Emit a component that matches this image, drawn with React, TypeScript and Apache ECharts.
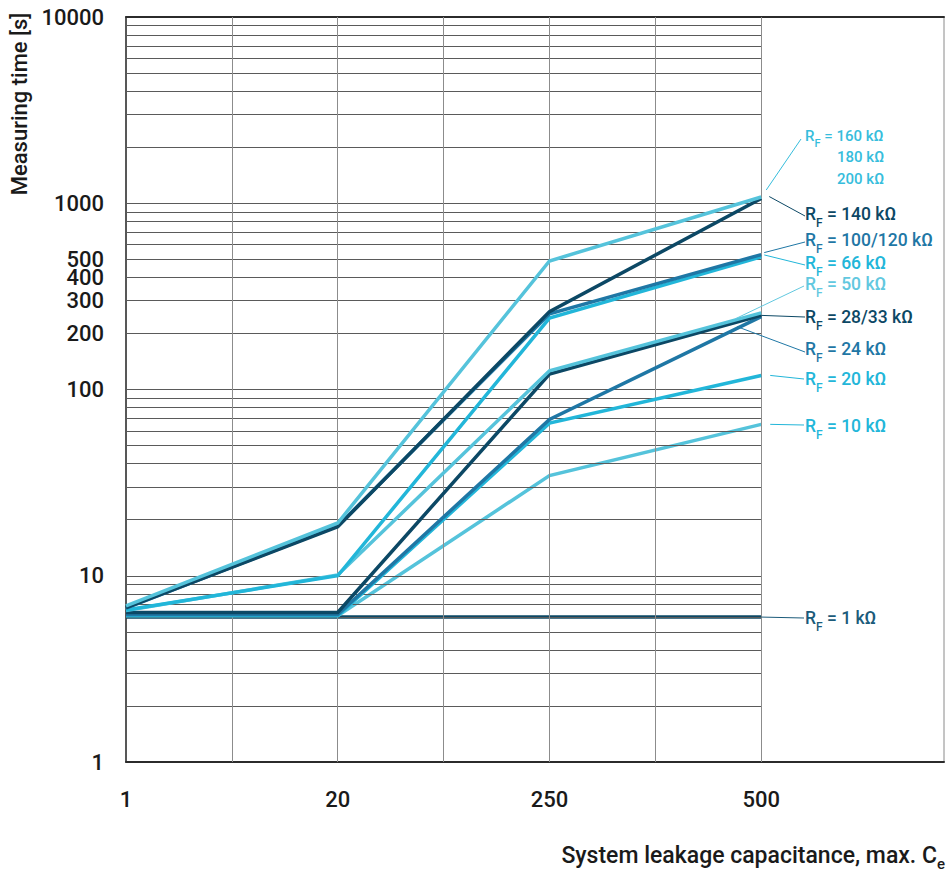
import React, { useEffect, useRef } from "react";
import * as echarts from "echarts";

// ---------- data ----------
const xLabels = ["1", "20", "250", "500"];
const xPos = [0, 2, 4, 6];

const rf160 = [6.9, 19.2, 490, 1080];
const rf140 = [6.75, 18.3, 262, 1060];
const rf100 = [6.7, 18.5, 255, 530];
const rf66 = [6.55, 10.0, 242, 515];
const rf50 = [6.5, 10.1, 126, 258];
const rf28 = [6.35, 6.35, 121, 250];
const rf24 = [6.2, 6.2, 69, 246];
const rf20 = [6.1, 6.1, 66, 119];
const rf10 = [6.1, 6.1, 34.5, 65];
const rf1 = [6.0, 6.0, 6.0, 6.0];

const yMajorLabels = [1, 10, 100, 1000, 10000];
const yExtraLabels = [200, 300, 400, 500];
const yMinorLines = [
  2, 3, 4, 5, 6, 7, 8, 9, 10,
  20, 30, 40, 50, 60, 70, 80, 90, 100,
  200, 300, 400, 500, 600, 700, 800, 900, 1000,
  2000, 3000, 4000, 5000, 6000, 7000, 8000, 9000,
];
const xGridLines = [1, 2, 3, 4, 5, 6];

// ---------- styles ----------
const LIGHT = "#55C3DB";
const CYAN = "#22B6D9";
const MID = "#1F77A5";
const NAVY = "#0C4865";
const FONT = "Roboto, 'Liberation Sans', Arial, sans-serif";
const WEIGHT = 500;

const seriesDefs = [
  { name: "RF = 1 kΩ", values: rf1, color: NAVY },
  { name: "RF = 10 kΩ", values: rf10, color: LIGHT },
  { name: "RF = 20 kΩ", values: rf20, color: CYAN },
  { name: "RF = 24 kΩ", values: rf24, color: MID },
  { name: "RF = 28/33 kΩ", values: rf28, color: NAVY },
  { name: "RF = 50 kΩ", values: rf50, color: LIGHT },
  { name: "RF = 66 kΩ", values: rf66, color: CYAN },
  { name: "RF = 100/120 kΩ", values: rf100, color: MID },
  { name: "RF = 140 kΩ", values: rf140, color: NAVY },
  { name: "RF = 160/180/200 kΩ", values: rf160, color: LIGHT },
];

const annotations = [
  { text: "160 kΩ", values: rf160, color: "#36BDDC", size: 15, start: [5, -7], label: [805, 137], lineEnd: [801, 139] },
  { text: "140 kΩ", values: rf140, color: NAVY, size: 17.5, start: [8, -2], label: [805, 215], lineEnd: [805, 216] },
  { text: "100/120 kΩ", values: rf100, color: MID, size: 17.5, start: [3, -2], label: [805, 241], lineEnd: [805, 242] },
  { text: "66 kΩ", values: rf66, color: CYAN, size: 17.5, start: [3, -2], label: [805, 264], lineEnd: [805, 265] },
  { text: "50 kΩ", values: rf50, color: "#62C8DF", size: 17.5, start: [-26, 6], label: [805, 285], lineEnd: [804, 286] },
  { text: "28/33 kΩ", values: rf28, color: NAVY, size: 17.5, start: [0, 0], label: [805, 318], lineEnd: [805, 317] },
  { text: "24 kΩ", values: rf24, color: MID, size: 17.5, start: [-24, 10], label: [805, 350], lineEnd: [805, 352] },
  { text: "20 kΩ", values: rf20, color: CYAN, size: 17.5, start: [9, 0], label: [805, 380], lineEnd: [804, 379] },
  { text: "10 kΩ", values: rf10, color: CYAN, size: 17.5, start: [9, 0], label: [805, 427], lineEnd: [804, 425] },
  { text: "1 kΩ", values: rf1, color: "#1B5B7A", size: 17.5, start: [0, 0], label: [805, 619], lineEnd: [804, 618] },
];

function rfText(x: number, y: number, value: string, color: string, size: number) {
  const lh = Math.round(size + 3);
  const base = { fontSize: size, fontFamily: FONT, fontWeight: WEIGHT, lineHeight: lh, verticalAlign: "top", fill: color };
  const sub = Math.round(size * 0.7);
  return {
    type: "text",
    x,
    y: y - lh / 2,
    silent: true,
    style: {
      text: `{r|R}{s|F}{t| = ${value}}`,
      fill: color,
      font: `${WEIGHT} ${size}px ${FONT}`,
      rich: {
        r: base,
        s: { fontSize: sub, fontFamily: FONT, fontWeight: WEIGHT, lineHeight: sub, padding: [Math.round(lh * 0.58), 0, 0, 0], verticalAlign: "top", fill: color },
        t: base,
      },
    },
  };
}

export default function App() {
  const ref = useRef<HTMLDivElement>(null);

  useEffect(() => {
    if (!ref.current) return;
    const chart = echarts.init(ref.current, null, { renderer: "svg" });

    const hLines = yMinorLines.map((v) => {
      const labeled = yExtraLabels.indexOf(v) >= 0;
      return [
        {
          coord: [0, v],
          label: labeled
            ? {
                show: true,
                position: "start",
                distance: 22,
                formatter: String(v),
                fontSize: 22,
                fontWeight: WEIGHT,
                color: "#1a1a1a",
                fontFamily: FONT,
              }
            : { show: false },
        },
        { coord: [6, v] },
      ];
    });
    const vLines = xGridLines.map((x) => ({
      xAxis: x,
      lineStyle: { color: "#8c8c8c", width: 1, type: "solid" },
      label: { show: false },
    }));

    const xMax = 6 + (945 - 762) / ((762 - 126) / 6);

    const option: any = {
      animation: false,
      backgroundColor: "#ffffff",
      textStyle: { fontFamily: FONT },
      grid: {
        left: 126,
        right: 947 - 945,
        top: 17,
        bottom: 869 - 762,
        show: true,
        borderColor: "#8a8a8a",
        borderWidth: 1,
        backgroundColor: "transparent",
      },
      xAxis: [
        {
          type: "value",
          min: 0,
          max: xMax,
          interval: 1,
          axisLine: { show: true, lineStyle: { color: "#2b2b2b", width: 2 } },
          axisTick: { show: false },
          splitLine: { show: false },
          axisLabel: {
            fontSize: 22,
            fontWeight: WEIGHT,
            color: "#1a1a1a",
            margin: 26,
            fontFamily: FONT,
            formatter: (v: number) => {
              const i = xPos.indexOf(v);
              return i >= 0 ? xLabels[i] : "";
            },
          },
        },
        {
          type: "value",
          position: "top",
          min: 0,
          max: xMax,
          interval: 1,
          axisLine: { show: true, lineStyle: { color: "#2b2b2b", width: 2 } },
          axisTick: { show: false },
          splitLine: { show: false },
          axisLabel: { show: false },
        },
      ],
      yAxis: {
        type: "log",
        logBase: 10,
        min: 1,
        max: 10000,
        axisLine: { show: true, lineStyle: { color: "#333", width: 1.5 } },
        axisTick: { show: false },
        splitLine: { show: false },
        axisLabel: {
          fontSize: 22,
          fontWeight: WEIGHT,
          color: "#1a1a1a",
          margin: 22,
          fontFamily: FONT,
          formatter: (v: number) => (yMajorLabels.indexOf(Math.round(v)) >= 0 ? String(Math.round(v)) : ""),
        },
      },
      series: [
        {
          type: "line",
          name: "grid",
          data: [],
          silent: true,
          z: 1,
          markLine: {
            silent: true,
            symbol: ["none", "none"],
            animation: false,
            lineStyle: { color: "#5a5a5a", width: 1, type: "solid" },
            label: { show: false },
            emphasis: { disabled: true },
            data: [...hLines, ...vLines],
          },
        },
        ...seriesDefs.map((s, i) => ({
          type: "line",
          name: s.name,
          data: s.values.map((v, j) => [xPos[j], v]),
          symbol: "none",
          showSymbol: false,
          z: 3 + i,
          lineStyle: { color: s.color, width: 3.5, cap: "butt", join: "miter" },
          itemStyle: { color: s.color },
          emphasis: { disabled: true },
        })),
      ],
    };

    chart.setOption(option);

    const graphics: any[] = [];
    annotations.forEach((a) => {
      const p = chart.convertToPixel({ xAxisIndex: 0, yAxisIndex: 0 }, [6, a.values[3]]) as number[];
      graphics.push({
        type: "line",
        silent: true,
        shape: { x1: p[0] + a.start[0], y1: p[1] + a.start[1], x2: a.lineEnd[0], y2: a.lineEnd[1] },
        style: { stroke: a.color, lineWidth: 1 },
        z: 50,
      });
      graphics.push(rfText(a.label[0], a.label[1], a.text, a.color, a.size));
    });
    ["180 kΩ", "200 kΩ"].forEach((t, i) => {
      graphics.push({
        type: "text",
        x: 837,
        y: 157 + i * 22,
        silent: true,
        style: { text: t, font: `${WEIGHT} 15px ${FONT}`, fill: "#36BDDC", verticalAlign: "middle" },
      });
    });
    graphics.push({
      type: "text",
      x: 19,
      y: 104,
      rotation: Math.PI / 2,
      silent: true,
      style: {
        text: "Measuring time [s]",
        font: `${WEIGHT} 22px ${FONT}`,
        fill: "#1a1a1a",
        align: "center",
        verticalAlign: "middle",
      },
    });
    graphics.push({
      type: "text",
      right: 2,
      top: 844,
      silent: true,
      style: {
        text: "{a|System leakage capacitance, max. C}{b|e}",
        fill: "#1a1a1a",
        rich: {
          a: { fontSize: 23, fontFamily: FONT, fontWeight: WEIGHT, lineHeight: 24, verticalAlign: "top", fill: "#1a1a1a" },
          b: { fontSize: 15, fontFamily: FONT, fontWeight: WEIGHT, lineHeight: 15, padding: [12, 0, 0, 0], verticalAlign: "top", fill: "#1a1a1a" },
        },
      },
    });

    chart.setOption({ graphic: graphics });

    return () => chart.dispose();
  }, []);

  return (
    <div
      ref={ref}
      style={{ position: "fixed", left: 0, top: 0, width: 947, height: 869, background: "#fff" }}
    />
  );
}
